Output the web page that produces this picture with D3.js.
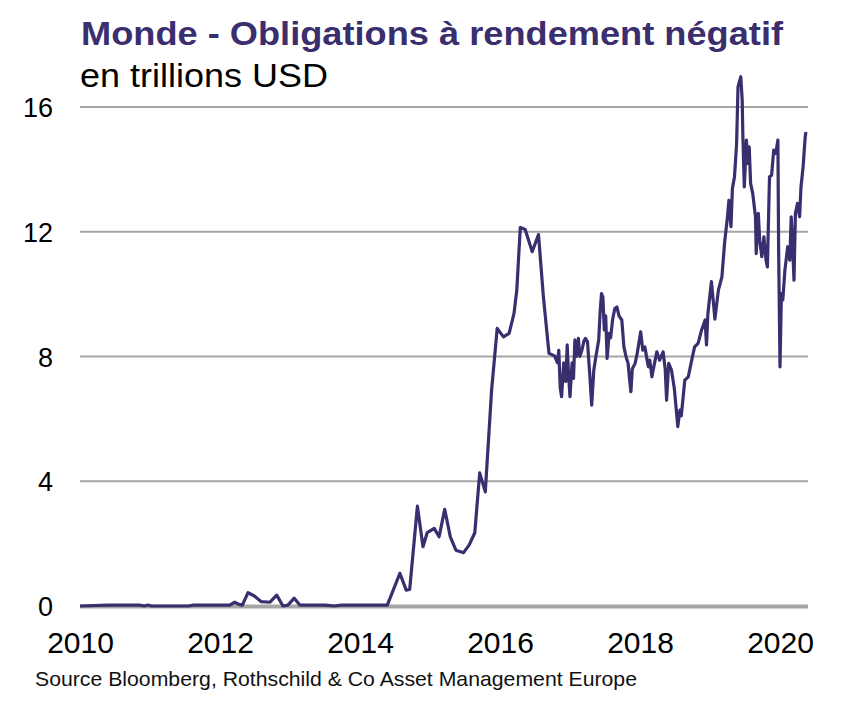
<!DOCTYPE html>
<html>
<head>
<meta charset="utf-8">
<script src="https://cdn.jsdelivr.net/npm/d3@7"></script>
<style>
  html, body { margin: 0; padding: 0; background: #fff; }
  svg { display: block; font-family: "Liberation Sans", Arial, sans-serif; }
</style>
</head>
<body>
<div id="chart"></div>
<script>
// ---- Data ----
const titleText = 'Monde - Obligations à rendement négatif';
const subtitleText = 'en trillions USD';
const sourceText = 'Source Bloomberg, Rothschild & Co Asset Management Europe';

const yTicks = [0, 4, 8, 12, 16];
const xTicks = [2010, 2012, 2014, 2016, 2018, 2020];

// decimal years
const years = [
  2010.00, 2010.40, 2010.85, 2010.92, 2010.97, 2011.02, 2011.55, 2011.62, 2012.14, 2012.21,
  2012.27, 2012.32, 2012.40, 2012.49, 2012.59, 2012.71, 2012.81, 2012.90, 2012.97, 2013.06,
  2013.14, 2013.51, 2013.63, 2013.73, 2014.39, 2014.57, 2014.66, 2014.71, 2014.82, 2014.90,
  2014.96, 2015.06, 2015.13, 2015.21, 2015.29, 2015.37, 2015.48, 2015.56, 2015.64, 2015.71,
  2015.79, 2015.88, 2015.96, 2016.05, 2016.13, 2016.20, 2016.24, 2016.29, 2016.36, 2016.46,
  2016.55, 2016.62, 2016.70, 2016.78, 2016.82, 2016.84, 2016.86, 2016.88, 2016.91, 2016.94,
  2016.96, 2016.98, 2017.00, 2017.03, 2017.05, 2017.07, 2017.09, 2017.10, 2017.12, 2017.14,
  2017.17, 2017.20, 2017.22, 2017.25, 2017.28, 2017.31, 2017.34, 2017.37, 2017.41, 2017.43,
  2017.45, 2017.47, 2017.49, 2017.51, 2017.53, 2017.56, 2017.58, 2017.61, 2017.64, 2017.67,
  2017.70, 2017.74, 2017.77, 2017.80, 2017.83, 2017.85, 2017.87, 2017.89, 2017.93, 2017.96,
  2018.01, 2018.04, 2018.07, 2018.10, 2018.12, 2018.14, 2018.17, 2018.20, 2018.24, 2018.28,
  2018.33, 2018.36, 2018.38, 2018.41, 2018.45, 2018.49, 2018.51, 2018.54, 2018.57, 2018.59,
  2018.64, 2018.69, 2018.74, 2018.78, 2018.83, 2018.88, 2018.93, 2018.95, 2018.97, 2019.02,
  2019.05, 2019.07, 2019.12, 2019.17, 2019.21, 2019.25, 2019.27, 2019.30, 2019.32, 2019.35,
  2019.38, 2019.40, 2019.44, 2019.46, 2019.47, 2019.49, 2019.52, 2019.54, 2019.56, 2019.58,
  2019.61, 2019.65, 2019.66, 2019.69, 2019.71, 2019.74, 2019.77, 2019.80, 2019.82, 2019.85,
  2019.88, 2019.91, 2019.94, 2019.97, 2019.98, 2020.00, 2020.02, 2020.04, 2020.07, 2020.11,
  2020.14, 2020.16, 2020.18, 2020.20, 2020.22, 2020.25, 2020.28, 2020.30, 2020.33, 2020.36,
  2020.37
];

// trillions USD
const values = [
  0.00, 0.03, 0.03, 0.00, 0.03, 0.00, 0.00, 0.03, 0.03, 0.12,
  0.05, 0.03, 0.43, 0.32, 0.14, 0.12, 0.35, 0.00, 0.03, 0.25,
  0.03, 0.03, 0.00, 0.03, 0.03, 1.05, 0.51, 0.53, 3.20, 1.90,
  2.35, 2.49, 2.22, 3.10, 2.22, 1.79, 1.71, 1.96, 2.35, 4.27,
  3.66, 6.92, 8.90, 8.63, 8.74, 9.38, 10.13, 12.14, 12.07, 11.36,
  11.91, 9.91, 8.10, 8.02, 7.80, 8.20, 7.00, 6.71, 7.80, 7.20,
  8.37, 7.40, 6.71, 7.80, 7.30, 8.53, 8.00, 8.10, 8.58, 8.00,
  8.20, 8.50, 8.58, 8.47, 7.50, 6.44, 7.56, 8.00, 8.53, 9.40,
  10.02, 9.90, 8.85, 9.30, 7.94, 8.74, 8.60, 9.20, 9.54, 9.59,
  9.30, 9.17, 8.31, 8.00, 7.78, 7.30, 6.87, 7.60, 7.78, 8.10,
  8.79, 8.20, 8.31, 7.90, 7.67, 7.88, 7.35, 7.70, 8.15, 7.88,
  8.15, 7.60, 6.60, 7.78, 7.56, 6.98, 6.50, 5.75, 6.28, 6.10,
  7.24, 7.35, 7.90, 8.31, 8.42, 8.85, 9.17, 8.37, 9.38, 10.40,
  9.70, 9.20, 10.13, 10.55, 11.68, 12.48, 13.01, 12.16, 13.39, 13.76,
  14.83, 16.64, 16.97, 16.22, 15.04, 13.44, 14.94, 14.19, 14.72, 13.55,
  13.23, 12.48, 11.30, 12.59, 11.73, 11.20, 11.84, 11.09, 10.87, 13.76,
  13.81, 14.62, 14.51, 14.94, 11.52, 7.67, 10.02, 9.81, 10.77, 11.52,
  11.09, 12.48, 11.52, 10.45, 12.59, 12.91, 12.48, 13.44, 14.08, 15.04,
  15.20
];

// ---- Layout ----
const W = 864, H = 703;
const plot = { left: 80, right: 808, top: 107, bottom: 606 };
const purple = '#3a2e6e';
const gridColor = '#a6a6a6';

const svg = d3.select('#chart').append('svg')
  .attr('width', W).attr('height', H);

// ---- Scales ----
const x = d3.scaleLinear().domain([2010, 2020.4]).range([plot.left, plot.right]);
const y = d3.scaleLinear().domain([0, 16]).range([plot.bottom, plot.top]);

// ---- Titles ----
svg.append('text')
  .attr('x', 81).attr('y', 45)
  .attr('font-size', 33).attr('font-weight', 700)
  .attr('fill', purple)
  .attr('textLength', 702).attr('lengthAdjust', 'spacingAndGlyphs')
  .text(titleText);

svg.append('text')
  .attr('x', 80).attr('y', 86.5)
  .attr('font-size', 32.5)
  .attr('fill', '#000')
  .attr('textLength', 248).attr('lengthAdjust', 'spacingAndGlyphs')
  .text(subtitleText);

// ---- Grid ----
svg.append('g')
  .selectAll('line').data(yTicks.filter(d => d !== 0)).join('line')
  .attr('x1', plot.left).attr('x2', plot.right)
  .attr('y1', d => y(d)).attr('y2', d => y(d))
  .attr('stroke', gridColor).attr('stroke-width', 2);

// zero line (thicker)
svg.append('line')
  .attr('x1', plot.left).attr('x2', plot.right)
  .attr('y1', y(0) + 0.5).attr('y2', y(0) + 0.5)
  .attr('stroke', gridColor).attr('stroke-width', 4);

// ---- Axes ----
svg.append('g')
  .attr('transform', `translate(53,0)`)
  .call(d3.axisLeft(y).tickValues(yTicks).tickSize(0).tickPadding(0).tickFormat(d3.format('d')))
  .call(g => g.select('.domain').remove())
  .call(g => g.selectAll('text')
    .attr('font-family', '"Liberation Sans", Arial, sans-serif')
    .attr('font-size', 27).attr('fill', '#000').attr('dy', '0.36em'));

svg.append('g')
  .attr('transform', `translate(0,${plot.bottom})`)
  .call(d3.axisBottom(x).tickValues(xTicks).tickSize(0).tickPadding(0).tickFormat(d3.format('d')))
  .call(g => g.select('.domain').remove())
  .call(g => g.selectAll('text')
    .attr('font-family', '"Liberation Sans", Arial, sans-serif')
    .attr('font-size', 30).attr('fill', '#000').attr('dy', 0).attr('y', 47));

// ---- Line ----
const series = years.map((yr, i) => ({ yr, v: values[i] }));
svg.append('path')
  .datum(series)
  .attr('fill', 'none')
  .attr('stroke', purple)
  .attr('stroke-width', 3.2)
  .attr('stroke-linejoin', 'round')
  .attr('d', d3.line().x(d => x(d.yr)).y(d => y(d.v)));

// ---- Source ----
svg.append('text')
  .attr('x', 35).attr('y', 686)
  .attr('font-size', 21)
  .attr('fill', '#111')
  .attr('textLength', 602).attr('lengthAdjust', 'spacingAndGlyphs')
  .text(sourceText);
</script>
</body>
</html>
